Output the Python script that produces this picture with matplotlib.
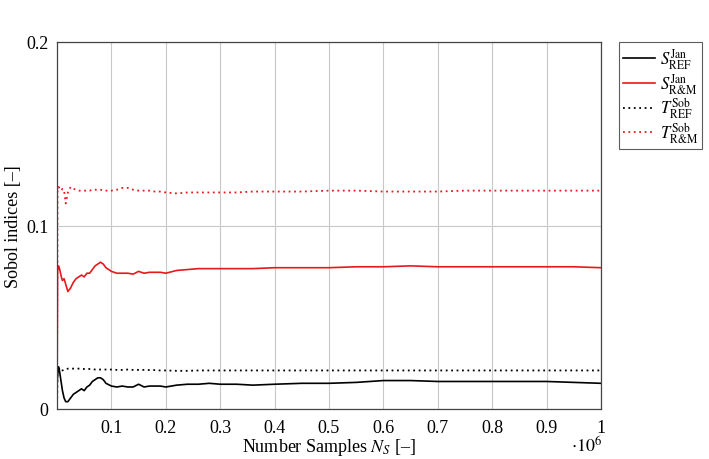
import numpy as np
import matplotlib
matplotlib.use('Agg')
import matplotlib.pyplot as plt
from matplotlib.ticker import FuncFormatter

plt.rcParams['font.family'] = ['Liberation Serif', 'DejaVu Serif']
plt.rcParams['mathtext.fontset'] = 'stix'

# number of samples in units of 1e6
ns = [0, 0.001, 0.003, 0.005, 0.008, 0.01, 0.013, 0.016, 0.02, 0.025, 0.03, 0.035,
      0.04, 0.045, 0.05, 0.055, 0.06, 0.065, 0.07, 0.075, 0.08, 0.085, 0.09, 0.1,
      0.11, 0.12, 0.13, 0.14, 0.15, 0.16, 0.17, 0.18, 0.19, 0.2, 0.22, 0.24, 0.26,
      0.28, 0.3, 0.33, 0.36, 0.4, 0.45, 0.5, 0.55, 0.6, 0.65, 0.7, 0.75, 0.8, 0.85,
      0.9, 0.95, 1.0]

s_ref = [0.012, 0.018, 0.023, 0.020, 0.014, 0.010, 0.006, 0.004, 0.004, 0.006, 0.008, 0.009,
         0.010, 0.011, 0.010, 0.012, 0.013, 0.015, 0.016, 0.017, 0.017, 0.016, 0.014, 0.0125,
         0.012, 0.0125, 0.012, 0.012, 0.0135, 0.012, 0.0125, 0.0125, 0.0125, 0.012, 0.013, 0.0135, 0.0135,
         0.014, 0.0135, 0.0135, 0.013, 0.0135, 0.014, 0.014, 0.0145, 0.0155, 0.0155, 0.015, 0.015, 0.015, 0.015,
         0.015, 0.0145, 0.014]

s_rm = [0.0, 0.075, 0.078, 0.076, 0.072, 0.070, 0.071, 0.068, 0.064, 0.066, 0.069, 0.071,
        0.072, 0.073, 0.072, 0.074, 0.074, 0.076, 0.078, 0.079, 0.080, 0.079, 0.077, 0.075,
        0.074, 0.074, 0.074, 0.0735, 0.075, 0.074, 0.0745, 0.0745, 0.0745, 0.074, 0.0755, 0.076, 0.0765,
        0.0765, 0.0765, 0.0765, 0.0765, 0.077, 0.077, 0.077, 0.0775, 0.0775, 0.078, 0.0775, 0.0775, 0.0775, 0.0775,
        0.0775, 0.0775, 0.077]

t_ref = [0.0, 0.020, 0.023, 0.021, 0.0205, 0.021, 0.0215, 0.0215, 0.022, 0.022, 0.022, 0.022,
         0.022, 0.022, 0.0218, 0.0218, 0.0218, 0.0218, 0.0215, 0.0215, 0.0215, 0.0215, 0.0215, 0.0215,
         0.0213, 0.0213, 0.0215, 0.0213, 0.0213, 0.0213, 0.0212, 0.0212, 0.021, 0.021, 0.0208, 0.0208, 0.021,
         0.021, 0.021, 0.021, 0.021, 0.021, 0.021, 0.021, 0.021, 0.021, 0.021, 0.021, 0.021, 0.021, 0.021,
         0.021, 0.021, 0.021]

t_rm = [0.0, 0.120, 0.121, 0.120, 0.119, 0.120, 0.119, 0.112, 0.118, 0.121, 0.120, 0.1195,
        0.119, 0.119, 0.119, 0.119, 0.119, 0.1195, 0.1195, 0.1195, 0.1195, 0.119, 0.119, 0.119,
        0.1195, 0.1205, 0.1205, 0.1195, 0.119, 0.119, 0.119, 0.1185, 0.1185, 0.118, 0.1175, 0.118, 0.118,
        0.118, 0.118, 0.118, 0.1185, 0.1185, 0.1185, 0.119, 0.119, 0.1185, 0.1185, 0.1185, 0.119, 0.119, 0.119,
        0.119, 0.119, 0.119]

labels = [r'$S_{\mathrm{REF}}^{\mathrm{Jan}}$', r'$S_{\mathrm{R&M}}^{\mathrm{Jan}}$',
          r'$T_{\mathrm{REF}}^{\mathrm{Sob}}$', r'$T_{\mathrm{R&M}}^{\mathrm{Sob}}$']

x = np.array(ns) * 1e6

fig = plt.figure(figsize=(7.09, 4.6), dpi=100)
ax = fig.add_axes([57/709, 1-410/460, 544/709, 367/460])

ax.plot(x, s_ref, color='black', lw=1.2, label=labels[0])
ax.plot(x, s_rm, color='#e41a1c', lw=1.2, label=labels[1])
ax.plot(x, t_ref, color='black', lw=1.3, ls=(0, (1, 2)), label=labels[2])
ax.plot(x, t_rm, color='#e41a1c', lw=1.3, ls=(0, (1, 2)), label=labels[3])

ax.set_xlim(0, 1e6)
ax.set_ylim(0, 0.2)
ax.set_xticks(np.arange(1, 11) * 1e5)
ax.set_yticks([0, 0.1, 0.2])
ax.xaxis.set_major_formatter(FuncFormatter(lambda v, p: ('%g' % round(v / 1e6, 3))))
ax.yaxis.set_major_formatter(FuncFormatter(lambda v, p: ('%g' % round(v, 3))))
ax.tick_params(axis='x', length=0, labelsize=13, pad=7)
ax.tick_params(axis='y', length=0, labelsize=13, pad=6)
ax.grid(True, color='#c8c8c8', lw=0.8)
for sp in ax.spines.values():
    sp.set_color('#444444')
    sp.set_linewidth(0.9)

ax.set_xlabel(r'Number Samples $N_S$ [–]', fontsize=13, labelpad=0)
ax.set_ylabel('Sobol indices [–]', fontsize=13, labelpad=3)
fig.text(602/709, 1-447/460, r'$\cdot 10^6$', fontsize=13, ha='right', va='center')

leg = ax.legend(loc='upper left', bbox_to_anchor=(619/709, 1-43/460),
                bbox_transform=fig.transFigure, borderaxespad=0, fancybox=False,
                edgecolor='#333333', fontsize=12, handlelength=1.9,
                labelspacing=0.0, borderpad=0.25, handletextpad=0.3)
leg.get_frame().set_linewidth(0.8)

fig.savefig('out.png', dpi=100)
